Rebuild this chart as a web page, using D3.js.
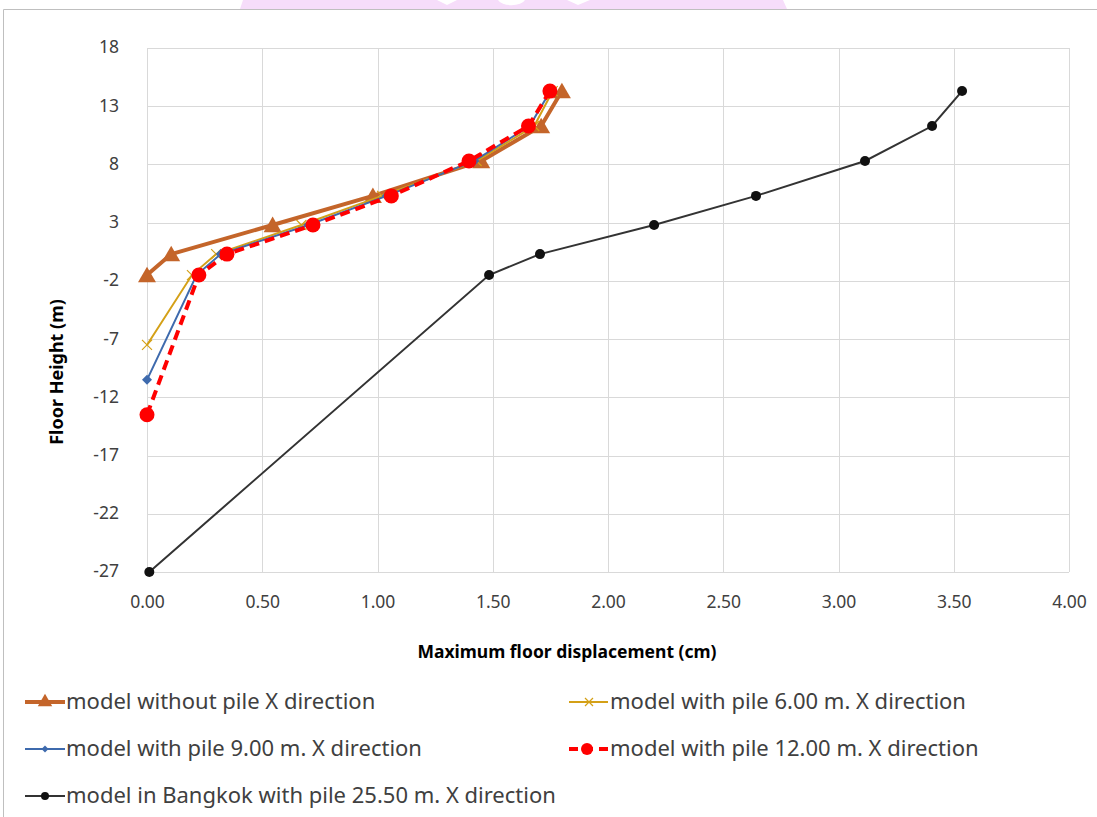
<!DOCTYPE html>
<html><head><meta charset="utf-8">
<script src="https://cdn.jsdelivr.net/npm/d3@7/dist/d3.min.js"></script>
<style>
html,body{margin:0;padding:0;background:#fff;}
svg{display:block;font-family:"Noto Sans",sans-serif;}
</style></head>
<body><svg id="c" width="1097" height="817"></svg>
<script>
// ---- data ----
const xTicks = [0, 0.5, 1, 1.5, 2, 2.5, 3, 3.5, 4];
const yTicks = [18, 13, 8, 3, -2, -7, -12, -17, -22, -27];

const noPileX = [0.00, 0.105, 0.545, 0.98, 1.45, 1.71, 1.80];
const noPileY = [-1.5, 0.3, 2.8, 5.3, 8.3, 11.3, 14.3];

const pile6X = [0.00, 0.195, 0.30, 0.67, 1.02, 1.43, 1.68, 1.76];
const pile6Y = [-7.5, -1.5, 0.3, 2.8, 5.3, 8.3, 11.3, 14.3];

const pile9X = [0.00, 0.215, 0.32, 0.70, 1.04, 1.42, 1.66, 1.75];
const pile9Y = [-10.5, -1.5, 0.3, 2.8, 5.3, 8.3, 11.3, 14.3];

const pile12X = [0.00, 0.225, 0.347, 0.72, 1.06, 1.397, 1.655, 1.748];
const pile12Y = [-13.5, -1.5, 0.3, 2.8, 5.3, 8.3, 11.3, 14.3];

const bkkX = [0.01, 1.484, 1.705, 2.20, 2.642, 3.115, 3.406, 3.536];
const bkkY = [-27, -1.5, 0.3, 2.8, 5.3, 8.3, 11.3, 14.3];

const seriesNames = [
  "model without pile X direction",
  "model with pile 6.00 m. X direction",
  "model with pile 9.00 m. X direction",
  "model with pile 12.00 m. X direction",
  "model in Bangkok with pile 25.50 m. X direction"
];

// ---- chart ----
const svg = d3.select("#c");
const x = d3.scaleLinear().domain([0, 4]).range([147, 1069]);
const y = d3.scaleLinear().domain([-27, 18]).range([572, 48]);

// watermark strip at top
svg.append("path").attr("d",
  "M243,0 L437,0 L447,5 L457,0 L498,0 A14,7 0 0 0 525,0 L567,0 L578,5 L590,0 L783,0 L787,9 L240,9 Z")
  .attr("fill","#f6ddfa");
// outer frame
svg.append("path").attr("d","M3.5,817 L3.5,9.5 L1097,9.5").attr("fill","none").attr("stroke","#bfbfbf").attr("stroke-width",1);

// grid
const g = svg.append("g");
g.selectAll("line.hg").data(yTicks).join("line")
  .attr("x1", x(0)).attr("x2", x(4))
  .attr("y1", d => Math.round(y(d)) + 0.5).attr("y2", d => Math.round(y(d)) + 0.5)
  .attr("stroke", "#d9d9d9").attr("stroke-width", 1);
g.selectAll("line.vg").data(xTicks).join("line")
  .attr("y1", y(18)).attr("y2", y(-27))
  .attr("x1", d => Math.round(x(d)) + 0.5).attr("x2", d => Math.round(x(d)) + 0.5)
  .attr("stroke", "#d9d9d9").attr("stroke-width", 1);

// axes via d3 (labels only)
const xAxis = d3.axisBottom(x).tickValues(xTicks).tickFormat(d3.format(".2f")).tickSize(0).tickPadding(24);
const ax = svg.append("g").attr("transform", `translate(0,${y(-27)})`).call(xAxis);
ax.select(".domain").remove();
ax.selectAll("text").attr("font-size", 17.5).attr("fill", "#404040").attr("font-family", "Noto Sans");

const yAxis = d3.axisLeft(y).tickValues(yTicks).tickFormat(d => String(d)).tickSize(0).tickPadding(28);
const ay = svg.append("g").attr("transform", `translate(${x(0)},0)`).call(yAxis);
ay.select(".domain").remove();
ay.selectAll("text").attr("font-size", 17.5).attr("fill", "#404040").attr("font-family", "Noto Sans").attr("dy", "0.28em");

// axis titles
svg.append("text").attr("x", 567).attr("y", 658).attr("text-anchor", "middle")
  .attr("font-size", 17.5).attr("font-weight", "bold").attr("fill", "#000")
  .text("Maximum floor displacement (cm)");
svg.append("text").attr("transform", "translate(63,372) rotate(-90)").attr("text-anchor", "middle")
  .attr("font-size", 18).attr("font-weight", "bold").attr("fill", "#000")
  .text("Floor Height (m)");

const line = d3.line().x(d => x(d[0])).y(d => y(d[1]));
const zip = (a, b) => a.map((v, i) => [v, b[i]]);

const plot = svg.append("g");

// black series
const bkk = zip(bkkX, bkkY);
plot.append("path").datum(bkk).attr("d", line).attr("fill", "none").attr("stroke", "#333").attr("stroke-width", 2);
plot.selectAll("circle.bk").data(bkk).join("circle").attr("class","bk")
  .attr("cx", d => x(d[0])).attr("cy", d => y(d[1])).attr("r", 5).attr("fill", "#111");

// orange no pile
const np = zip(noPileX, noPileY);
plot.append("path").datum(np).attr("d", line).attr("fill", "none").attr("stroke", "#c4652a").attr("stroke-width", 4).attr("stroke-linejoin","round");
plot.selectAll("path.tri").data(np).join("path").attr("class","tri")
  .attr("transform", d => `translate(${x(d[0])},${y(d[1]) + 2})`)
  .attr("d", d3.symbol().type(d3.symbolTriangle).size(140)).attr("fill", "#c4652a");

// yellow pile 6
const p6 = zip(pile6X, pile6Y);
plot.append("path").datum(p6).attr("d", line).attr("fill", "none").attr("stroke", "#d4a017").attr("stroke-width", 2);
plot.selectAll("path.xm").data(p6).join("path").attr("class","xm")
  .attr("transform", d => `translate(${x(d[0])},${y(d[1])})`)
  .attr("d", "M-5,-5L5,5M-5,5L5,-5").attr("stroke", "#d4a017").attr("stroke-width", 1.2).attr("fill","none");

// blue pile 9
const p9 = zip(pile9X, pile9Y);
plot.append("path").datum(p9).attr("d", line).attr("fill", "none").attr("stroke", "#3e6aad").attr("stroke-width", 2);
plot.selectAll("path.dm").data(p9).join("path").attr("class","dm")
  .attr("transform", d => `translate(${x(d[0])},${y(d[1])})`)
  .attr("d", "M0,-5L5,0L0,5L-5,0Z").attr("fill", "#3e6aad");

// red pile 12
const p12 = zip(pile12X, pile12Y);
plot.append("path").datum(p12).attr("d", line).attr("fill", "none").attr("stroke", "#ff0000").attr("stroke-width", 4).attr("stroke-dasharray", "10,6");
plot.selectAll("circle.rd").data(p12).join("circle").attr("class","rd")
  .attr("cx", d => x(d[0])).attr("cy", d => y(d[1])).attr("r", 7.5).attr("fill", "#ff0000");

// legend
const leg = svg.append("g").attr("font-size", 22).attr("fill", "#404040");
const legItems = [
  {name: seriesNames[0], lx: 25, ly: 702, type: "tri"},
  {name: seriesNames[1], lx: 569, ly: 702, type: "x"},
  {name: seriesNames[2], lx: 25, ly: 749, type: "dia"},
  {name: seriesNames[3], lx: 569, ly: 749, type: "red"},
  {name: seriesNames[4], lx: 25, ly: 796, type: "blk"}
];
legItems.forEach(it => {
  const gg = leg.append("g").attr("transform", `translate(${it.lx},${it.ly})`);
  if (it.type === "tri") {
    gg.append("line").attr("x1",0).attr("x2",40).attr("stroke","#c4652a").attr("stroke-width",4);
    gg.append("path").attr("transform","translate(20,0)").attr("d", d3.symbol().type(d3.symbolTriangle).size(90)()).attr("fill","#c4652a");
  } else if (it.type === "x") {
    gg.append("line").attr("x1",0).attr("x2",39).attr("stroke","#d4a017").attr("stroke-width",2);
    gg.append("path").attr("transform","translate(20,0)").attr("d","M-4,-4L4,4M-4,4L4,-4").attr("stroke","#d4a017").attr("stroke-width",1.2);
  } else if (it.type === "dia") {
    gg.append("line").attr("x1",0).attr("x2",40).attr("stroke","#3e6aad").attr("stroke-width",2);
    gg.append("path").attr("transform","translate(20,0)").attr("d","M0,-3.5L3.5,0L0,3.5L-3.5,0Z").attr("fill","#3e6aad");
  } else if (it.type === "red") {
    gg.append("line").attr("x1",0).attr("x2",39).attr("stroke","#ff0000").attr("stroke-width",4).attr("stroke-dasharray","9,6");
    gg.append("circle").attr("cx",18).attr("cy",0).attr("r",6).attr("fill","#ff0000");
  } else {
    gg.append("line").attr("x1",0).attr("x2",40).attr("stroke","#333").attr("stroke-width",2);
    gg.append("circle").attr("cx",20).attr("cy",0).attr("r",4).attr("fill","#111");
  }
  gg.append("text").attr("x", 41).attr("y", 7).text(it.name);
});
</script>
</body></html>
